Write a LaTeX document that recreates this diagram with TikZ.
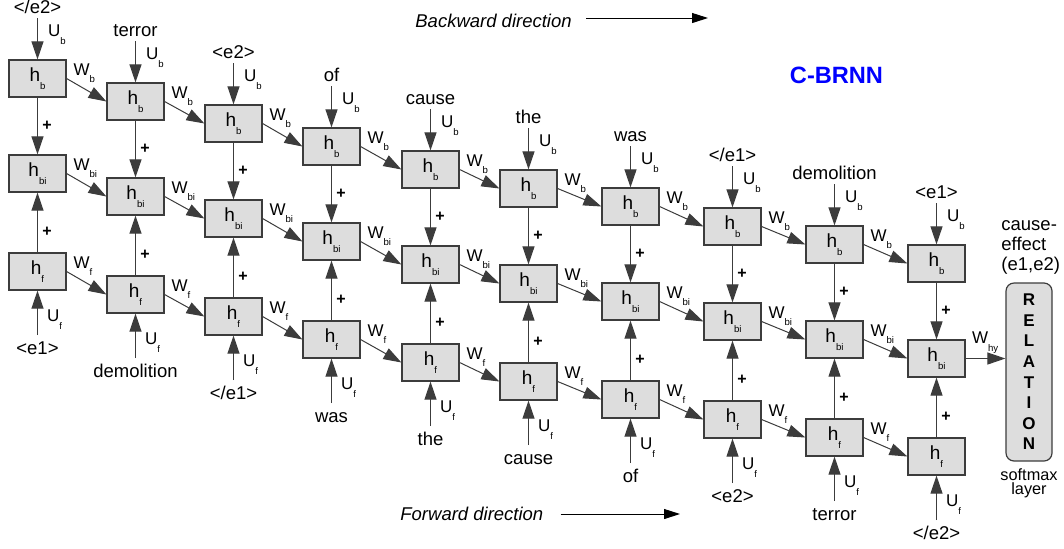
\documentclass[tikz,border=0pt]{standalone}
\usepackage{fontspec}
\setmainfont{Liberation Sans}
\usetikzlibrary{arrows.meta}

\definecolor{boxgray}{RGB}{221,221,221}
\definecolor{edgegray}{RGB}{60,60,60}

% small lowered index, as in h_b, W_bi, U_f
\newcommand{\lowsub}[1]{\raisebox{-3.8pt}{\fontsize{4.8}{5}\selectfont #1}}

\tikzset{
  cell/.style={draw=edgegray, fill=boxgray, line width=0.6pt, minimum width=28.5pt, minimum height=18.5pt, inner sep=0pt, font=\fontsize{9.5}{10}\selectfont},
  con/.style={draw=edgegray, line width=0.5pt, -{Triangle[length=9pt,width=6pt]}},
  dirarrow/.style={draw=black, line width=0.5pt, -{Triangle[length=8pt,width=5pt]}},
  wlbl/.style={anchor=base west, inner sep=0pt, font=\fontsize{8.5}{9}\selectfont},
  word/.style={anchor=base, inner sep=0pt, font=\fontsize{9.25}{11}\selectfont},
  plus/.style={inner sep=0pt, font=\fontsize{8}{9}\bfseries\selectfont}
}

\begin{document}
\begin{tikzpicture}[x=0.5pt, y=-0.5pt]

    \useasboundingbox (0,0) rectangle (1064,548);

    % Draw the columns: backward, bidirectional and forward cells
    \foreach \i/\cx/\cy/\upw/\dnw in {1/37.5/78.5/{</e2>}/{<e1>}, 2/135.5/101.5/terror/demolition,
        3/233.5/123.5/{<e2>}/{</e1>}, 4/331.5/146.5/of/was, 5/430.5/169.5/cause/the,
        6/528.5/188.5/the/cause, 7/630.5/206.5/was/of, 8/732.5/226.5/{</e1>}/{<e2>},
        9/834.5/244.5/demolition/terror, 10/936.5/263.5/{<e1>}/{</e2>}}{
      \node[cell] (b\i) at (\cx,\cy) {h\lowsub{b}};
      \node[cell] (bi\i) at (\cx,\cy+95) {h\lowsub{bi}};
      \node[cell] (f\i) at (\cx,\cy+193) {h\lowsub{f}};
      % Combine both directions
      \draw[con] (b\i) -- (bi\i) node[plus, midway, xshift=4.75pt] {+};
      \draw[con] (f\i) -- (bi\i) node[plus, pos=0.35, xshift=4.75pt] {+};
      % Input words
      \node[word] (tw\i) at (\cx,\cy-65.5) {\upw};
      \node[word] (dw\i) at (\cx,\cy+275.5) {\dnw};
      \coordinate (tin\i) at (\cx,\cy-60.5);
      \coordinate (bin\i) at (\cx,\cy+256.5);
      \draw[con] (tin\i) -- (b\i) node[wlbl, at end, xshift=5pt, yshift=11.5pt] {U\lowsub{b}};
      \draw[con] (bin\i) -- (f\i) node[wlbl, at end, xshift=4.5pt, yshift=-15.5pt] {U\lowsub{f}};
    }

    % Recurrent links between neighbouring cells
    \foreach \i [count=\j from 2] in {1,...,9}{
      \draw[con] (b\i.east) -- (b\j.west) node[wlbl, at start, xshift=3.25pt, yshift=1.75pt] {W\lowsub{b}};
      \draw[con] (bi\i.east) -- (bi\j.west) node[wlbl, at start, xshift=3.25pt, yshift=1.75pt] {W\lowsub{bi}};
      \draw[con] (f\i.east) -- (f\j.west) node[wlbl, at start, xshift=3.25pt, yshift=1.75pt] {W\lowsub{f}};
    }

    % Softmax layer
    \node[draw=edgegray, fill=boxgray, line width=0.6pt, rounded corners=4pt, minimum width=23pt, minimum height=89pt,
          inner sep=0pt, align=center, font=\fontsize{8.5}{10.3}\bfseries\selectfont] (rel) at (1029,372)
          {R\\E\\L\\A\\T\\I\\O\\N};
    \draw[con] (bi10.east) -- (bi10.east -| rel.west) node[wlbl, at start, xshift=3pt, yshift=7.5pt] {W\lowsub{hy}};
    \node[anchor=north west, align=left, inner sep=0pt, font=\fontsize{9.25}{10}\selectfont] (ce) at (1001,220.5)
          {cause-\\effect\\(e1,e2)};
    \node[anchor=north, align=center, inner sep=0pt, font=\fontsize{8.15}{7.3}\selectfont] (sm) at (1029,468)
          {softmax\\layer};

    % Title and directions
    \node[font=\fontsize{11.8}{12}\bfseries\selectfont, text=blue] (title) at (836.5,75) {C-BRNN};
    \node[anchor=base west, inner sep=0pt, font=\fontsize{9.25}{11}\itshape\selectfont] (bwd) at (415,27) {Backward direction};
    \coordinate (bwdend) at (708,18);
    \draw[dirarrow] ([xshift=7pt]bwd.east |- bwdend) -- (bwdend);
    \node[anchor=base west, inner sep=0pt, font=\fontsize{9.25}{11}\itshape\selectfont] (fwd) at (400,520) {Forward direction};
    \coordinate (fwdend) at (680,514);
    \draw[dirarrow] ([xshift=8.5pt]fwd.east |- fwdend) -- (fwdend);

\end{tikzpicture}
\end{document}
